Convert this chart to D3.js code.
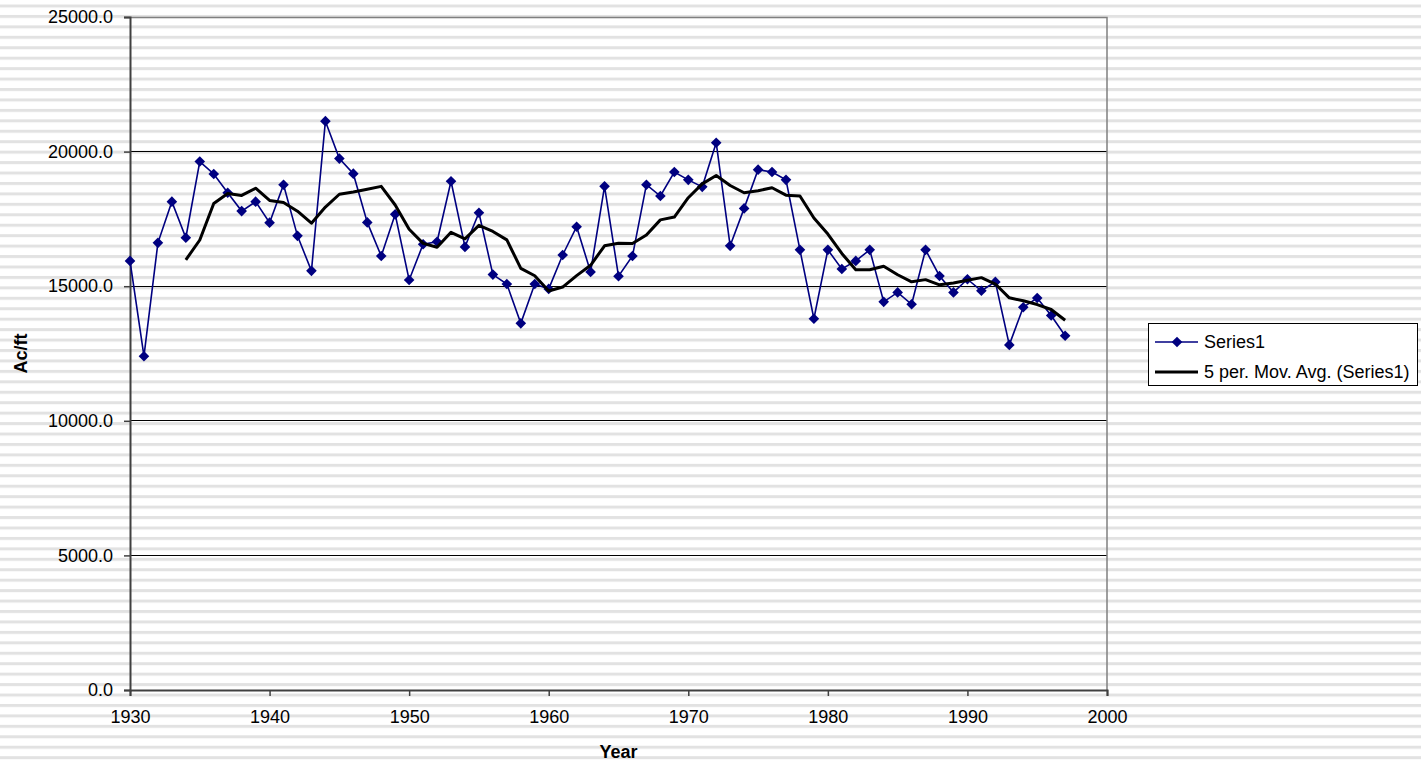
<!DOCTYPE html>
<html>
<head>
<meta charset="utf-8">
<script src="https://cdn.jsdelivr.net/npm/d3@7"></script>
<style>
  html, body { margin: 0; padding: 0; background: #fff; }
  svg { display: block; font-family: "Liberation Sans", Arial, sans-serif; }
</style>
</head>
<body>
<div id="chart"></div>
<script>
// data
const years = d3.range(1930, 1998);
const flow = [
    15940, 12400, 16610, 18140, 16800, 19630, 19170, 18470, 17790, 18140,
    17360, 18770, 16870, 15570, 21130, 19740, 19180, 17370, 16120, 17670,
    15230, 16560, 16650, 18900, 16460, 17730, 15430, 15080, 13620, 15080,
    14900, 16160, 17210, 15530, 18710, 15370, 16120, 18770, 18350, 19240,
    18950, 18690, 20330, 16500, 17890, 19330, 19240, 18950, 16350, 13790,
    16350, 15640, 15940, 16350, 14420, 14770, 14330, 16350, 15380, 14770,
    15260, 14830, 15160, 12820, 14220, 14560, 13910, 13160
];
const yTicks = [0, 5000, 10000, 15000, 20000, 25000];
const xTicks = [1930, 1940, 1950, 1960, 1970, 1980, 1990, 2000];
const legendLabels = ["Series1", "5 per. Mov. Avg. (Series1)"];

const data = years.map((y, i) => ({ year: y, value: flow[i] }));

// 5 period moving average trendline (as Excel does it)
const period = 5;
const movAvg = [];
for (let i = period - 1; i < data.length; i++) {
    movAvg.push({ year: data[i].year, value: d3.mean(data.slice(i - period + 1, i + 1), d => d.value) });
}

const W = 1421, H = 762;
const margin = { top: 17, right: 314, bottom: 72, left: 130 };
const width = W - margin.left - margin.right,
    height = H - margin.top - margin.bottom;

const root = d3.select("#chart")
    .append("svg")
    .attr("width", W)
    .attr("height", H);

// horizontal stripe background
const defs = root.append("defs");
const pat = defs.append("pattern")
    .attr("id", "stripes")
    .attr("patternUnits", "userSpaceOnUse")
    .attr("width", 8)
    .attr("height", 10.44)
    .attr("y", 4.5);
pat.append("rect").attr("width", 8).attr("height", 10.44).attr("fill", "#ffffff");
pat.append("rect").attr("y", 0).attr("width", 8).attr("height", 3).attr("fill", "#e2e2e2");

root.append("rect").attr("width", W).attr("height", H).attr("fill", "url(#stripes)");

const svg = root.append("g")
    .attr("transform", `translate(${margin.left}, ${margin.top})`);

const x = d3.scaleLinear().domain([1930, 2000]).range([0, width]);
const y = d3.scaleLinear().domain([0, 25000]).range([height, 0]);

// gridlines
svg.append("g")
    .selectAll("line")
    .data(yTicks.filter(d => d > 0 && d < 25000))
    .join("line")
    .attr("x1", 0).attr("x2", width)
    .attr("y1", d => y(d)).attr("y2", d => y(d))
    .attr("stroke", "#000").attr("stroke-width", 1)
    .attr("shape-rendering", "crispEdges");

// plot border (top and right)
svg.append("path")
    .attr("d", `M0,0.5H${width}V${height}`)
    .attr("fill", "none")
    .attr("stroke", "#808080")
    .attr("stroke-width", 1.5);

// Y axis
const yAxis = svg.append("g")
    .call(d3.axisLeft(y).tickValues(yTicks).tickFormat(d3.format(".1f")).tickSize(6).tickPadding(11));
yAxis.select(".domain").attr("stroke", "#404040").attr("stroke-width", 2);
yAxis.selectAll(".tick line").attr("stroke", "#404040").attr("stroke-width", 1.5);
yAxis.selectAll("text").style("font-size", "18px").attr("fill", "#000");

// X axis
const xAxis = svg.append("g")
    .attr("transform", `translate(0, ${height})`)
    .call(d3.axisBottom(x).tickValues(xTicks).tickFormat(d3.format("d")).tickSize(6).tickPadding(14));
xAxis.select(".domain").attr("stroke", "#404040").attr("stroke-width", 2);
xAxis.selectAll(".tick line").attr("stroke", "#404040").attr("stroke-width", 1.5);
xAxis.selectAll("text").style("font-size", "18px").attr("fill", "#000");

// axis titles
svg.append("text")
    .attr("transform", `translate(${22 - margin.left}, ${height / 2}) rotate(-90)`)
    .attr("text-anchor", "middle")
    .attr("dominant-baseline", "middle")
    .style("font-size", "18px")
    .style("font-weight", "bold")
    .text("Ac/ft");

svg.append("text")
    .attr("x", width / 2)
    .attr("y", height + 68)
    .attr("text-anchor", "middle")
    .style("font-size", "18px")
    .style("font-weight", "bold")
    .text("Year");

// Series1 line + diamonds
const line = d3.line().x(d => x(d.year)).y(d => y(d.value));
const diamond = d3.symbol().type(d3.symbolDiamond2).size(72);

svg.append("path")
    .datum(data)
    .attr("d", line)
    .attr("fill", "none")
    .attr("stroke", "#000080")
    .attr("stroke-width", 1.6);

svg.selectAll(".pt")
    .data(data)
    .join("path")
    .attr("class", "pt")
    .attr("transform", d => `translate(${x(d.year)}, ${y(d.value)})`)
    .attr("d", diamond)
    .attr("fill", "#000080");

// moving average
svg.append("path")
    .datum(movAvg)
    .attr("d", line)
    .attr("fill", "none")
    .attr("stroke", "#000")
    .attr("stroke-width", 3)
    .attr("stroke-linejoin", "round");

// legend
const lg = root.append("g").attr("transform", "translate(1148, 323)");
lg.append("rect")
    .attr("x", 0.5).attr("y", 0.5)
    .attr("width", 269).attr("height", 62)
    .attr("fill", "#fff").attr("stroke", "#000").attr("stroke-width", 1);

lg.append("line").attr("x1", 7).attr("x2", 50).attr("y1", 19).attr("y2", 19)
    .attr("stroke", "#000080").attr("stroke-width", 1.6);
lg.append("path").attr("transform", "translate(29, 19)").attr("d", diamond).attr("fill", "#000080");
lg.append("line").attr("x1", 7).attr("x2", 50).attr("y1", 49).attr("y2", 49)
    .attr("stroke", "#000").attr("stroke-width", 3);

lg.selectAll(".lt")
    .data(legendLabels)
    .join("text")
    .attr("class", "lt")
    .attr("x", 56)
    .attr("y", (d, i) => 19 + i * 30)
    .attr("dominant-baseline", "central")
    .style("font-size", "18px")
    .text(d => d);
</script>
</body>
</html>
